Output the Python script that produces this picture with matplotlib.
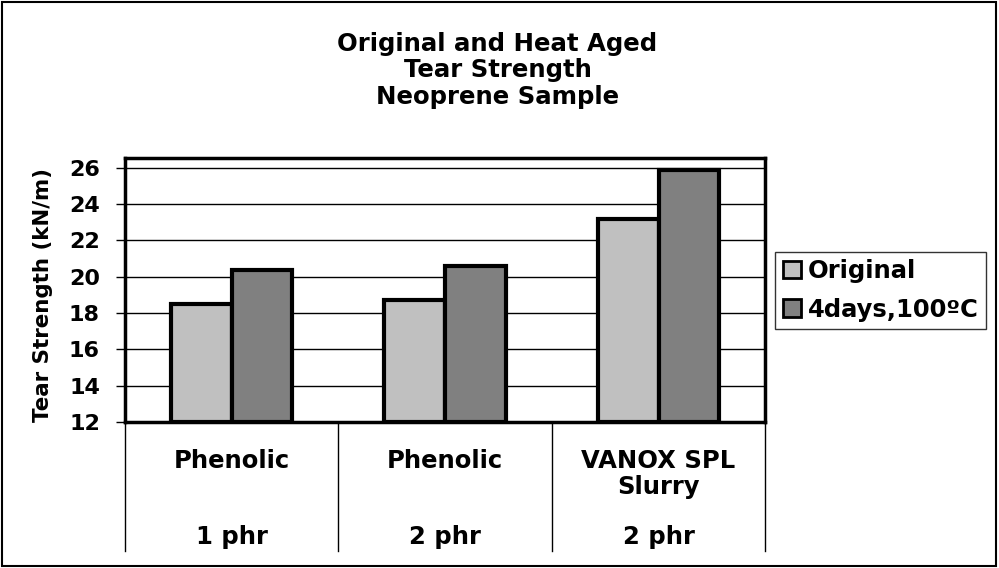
import numpy as np
import matplotlib.pyplot as plt
from matplotlib.patches import Rectangle

plt.rcParams['font.family'] = ['DejaVu Sans']
plt.rcParams['font.weight'] = 'bold'

materials = ['Phenolic', 'Phenolic', 'VANOX SPL\nSlurry']
doses = ['1 phr', '2 phr', '2 phr']
original = [18.5, 18.7, 23.2]
aged = [20.4, 20.6, 25.9]
series_names = ['Original', '4days,100ºC']
colors = ['#c0c0c0', '#808080']

fig = plt.figure(figsize=(9.99, 5.68), dpi=100)
fig.patches.append(Rectangle((0.002, 0.004), 0.995, 0.992, transform=fig.transFigure,
                             fill=False, edgecolor='black', linewidth=1.5))

ax = fig.add_axes([0.125, 0.257, 0.641, 0.465])
x = np.arange(len(materials))
w = 0.285
b1 = ax.bar(x - w / 2, np.array(original) - 12, w, bottom=12, color=colors[0],
            edgecolor='black', linewidth=3, zorder=3, label=series_names[0])
b2 = ax.bar(x + w / 2, np.array(aged) - 12, w, bottom=12, color=colors[1],
            edgecolor='black', linewidth=3, zorder=3, label=series_names[1])

ax.set_xlim(-0.5, 2.5)
ax.set_ylim(12, 26.55)
ax.set_yticks(range(12, 27, 2))
ax.tick_params(axis='y', labelsize=16, length=6.5, width=1, pad=11.5)
for lbl in ax.get_yticklabels():
    lbl.set_fontweight('bold')
ax.set_xticks([])
ax.yaxis.grid(True, color='black', linewidth=1)
ax.set_axisbelow(True)
for s in ax.spines.values():
    s.set_linewidth(2.5)
ax.set_ylabel('Tear Strength (kN/m)', fontsize=15.4, fontweight='bold')
ax.yaxis.set_label_coords(-0.113, 0.482)

# multi-level category axis
xt = ax.get_xaxis_transform()
for i in range(len(materials) + 1):
    ax.plot([i - 0.5, i - 0.5], [0, -0.49], transform=xt,
            color='black', linewidth=1, clip_on=False)
for i in range(len(materials)):
    ax.text(i, -0.102, materials[i], transform=xt, ha='center', va='top',
            fontsize=17.5, fontweight='bold', linespacing=1.1)
    ax.text(i, -0.46, doses[i], transform=xt, ha='center', va='baseline',
            fontsize=17.5, fontweight='bold')

fig.text(0.498, 0.876, 'Original and Heat Aged\nTear Strength\nNeoprene Sample',
         ha='center', va='center', fontsize=17.6, fontweight='bold', linespacing=1.12)

leg = fig.legend(handles=[b1, b2], loc='center left', bbox_to_anchor=(0.776, 0.489),
                 fontsize=17.5, frameon=True, fancybox=False, edgecolor='black',
                 handlelength=0.75, handleheight=0.75, handletextpad=0.3,
                 borderpad=0.3, labelspacing=0.6, borderaxespad=0)
leg.get_frame().set_linewidth(1)
for t in leg.get_texts():
    t.set_fontweight('bold')
for p in leg.get_patches():
    p.set_linewidth(2)

fig.savefig('out.png', dpi=100)
